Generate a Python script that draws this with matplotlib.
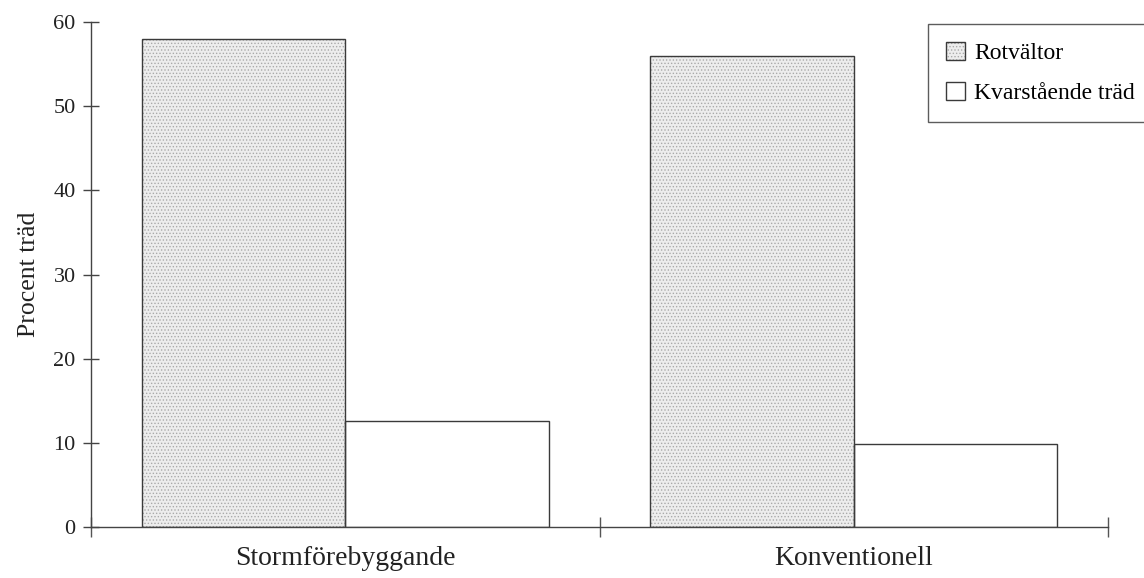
import matplotlib
matplotlib.use("Agg")
import matplotlib.pyplot as plt
from matplotlib.legend_handler import HandlerTuple
import numpy as np

categories = ["Stormförebyggande", "Konventionell"]
series_names = ["Rotvältor", "Kvarstående träd"]
rotvaltor = [58.0, 56.0]
kvarstaende = [12.6, 9.9]
yticks = [0, 10, 20, 30, 40, 50, 60]

plt.rcParams['font.family'] = ['Liberation Serif', 'DejaVu Serif']
plt.rcParams['hatch.linewidth'] = 0.6

fig = plt.figure(figsize=(11.44, 5.78), dpi=100)
ax = fig.add_axes([91/1144, 1-527/578, (1108-91)/1144, (527-22)/578])

x = np.arange(len(categories))
w = 0.4
fill1 = ax.bar(x - w/2, rotvaltor, w, facecolor='#ededed', edgecolor='#aaaaaa',
               linewidth=0, hatch='.....', zorder=2)
edge1 = ax.bar(x - w/2, rotvaltor, w, fill=False, edgecolor='#3a3a3a',
               linewidth=1.0, zorder=3)
bars2 = ax.bar(x + w/2, kvarstaende, w, facecolor='white', edgecolor='#3a3a3a',
               linewidth=1.0, zorder=2)

ax.set_xlim(-0.5, 1.5)
ax.set_ylim(0, 60)
for s in ['top', 'right']:
    ax.spines[s].set_visible(False)
for s in ['left', 'bottom']:
    ax.spines[s].set_color('#444444')
    ax.spines[s].set_linewidth(1.0)

ax.set_yticks(yticks)
ax.tick_params(axis='y', direction='inout', length=12, width=1.0, color='#444444',
               labelsize=16, pad=5, labelcolor='#222222')
ax.set_xticks([-0.5, 0.5, 1.5])
ax.set_xticklabels([])
ax.tick_params(axis='x', which='major', direction='inout', length=14, width=1.0, color='#555555')
ax.set_xticks(x, minor=True)
ax.set_xticklabels(categories, minor=True, fontsize=20, color='#222222')
ax.tick_params(axis='x', which='minor', length=0, pad=14)

ax.set_ylabel("Procent träd", fontsize=18.5, color='#222222', labelpad=10)

leg = ax.legend([(fill1[0], edge1[0]), bars2[0]], series_names,
                handler_map={tuple: HandlerTuple(ndivide=1, pad=0)},
                loc='upper left', bbox_to_anchor=(928/1144, 1-24/578),
                bbox_transform=fig.transFigure, fancybox=False, frameon=True,
                edgecolor='#333333', fontsize=17, handlelength=0.8, handleheight=0.8,
                handletextpad=0.4, labelspacing=0.75, borderpad=0.75, borderaxespad=0)
leg.get_frame().set_linewidth(1.0)

fig.savefig("out.png", dpi=100)
